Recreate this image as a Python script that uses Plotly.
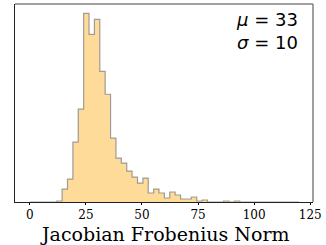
import plotly.graph_objects as go

# Histogram data: 50 bins of width 2.4 from 0 to 120
bin_start = 0.0
bin_width = 2.4
counts = [0, 0, 0, 0, 0, 1, 13, 23, 60, 93,
          189, 168, 183, 131, 108, 64, 44, 39, 31, 25,
          19, 24, 9, 13, 9, 4, 10, 7, 3, 3,
          5, 1, 2, 0, 0, 0, 1, 0, 1, 0,
          0, 0, 0, 0, 0, 0, 0, 0, 0, 0]
tick_vals = [0, 25, 50, 75, 100, 125]
tick_text = ["0", "25", "50", "75", "100", "125"]
stats_mu = 33
stats_sigma = 10
x_label = "Jacobian Frobenius Norm"

edges = [bin_start + bin_width * i for i in range(len(counts) + 1)]
xs = [edges[0]] + edges
ys = [0] + counts + [0]

fig = go.Figure()
fig.add_trace(go.Scatter(
    x=xs, y=ys, mode="lines", line_shape="hv",
    fill="tozeroy", fillcolor="#FFDB99",
    line=dict(color="rgba(128,128,128,0.75)", width=1.2),
    hoverinfo="skip", showlegend=False,
))

span = edges[-1] - edges[0]
ymax = max(counts) * 1.05

fig.update_layout(
    width=326, height=245,
    margin=dict(l=15, r=13, t=4, b=43),
    paper_bgcolor="white", plot_bgcolor="white",
    xaxis=dict(
        range=[edges[0] - 0.055 * span, edges[-1] + 0.052 * span],
        tickvals=tick_vals, ticktext=tick_text,
        ticks="outside", ticklen=2, tickwidth=1, tickcolor="black",
        showgrid=False, zeroline=False,
        showline=True, linecolor="#222222", linewidth=1,
        tickfont=dict(family="DejaVu Serif", size=12, color="black"),
    ),
    yaxis=dict(
        range=[0, ymax], showticklabels=False, ticks="",
        showgrid=False, zeroline=False,
        showline=True, linecolor="#222222", linewidth=1,
    ),
    shapes=[
        dict(type="line", xref="paper", yref="paper", x0=0, x1=1, y0=1, y1=1,
             line=dict(color="#808080", width=1.5)),
        dict(type="line", xref="paper", yref="paper", x0=1, x1=1, y0=0, y1=1,
             line=dict(color="#808080", width=1.5)),
    ],
    annotations=[
        dict(xref="paper", yref="paper", x=0.955, y=0.985,
             xanchor="right", yanchor="top", align="right", showarrow=False,
             text=f"<i>μ</i> = {stats_mu}<br><i>σ</i> = {stats_sigma}",
             font=dict(family="DejaVu Sans", size=18, color="black")),
        dict(xref="paper", yref="paper", x=0.5, y=-0.16,
             xanchor="center", yanchor="middle", showarrow=False,
             text=x_label, borderpad=0,
             font=dict(family="DejaVu Serif", size=19, color="black")),
    ],
)

fig.write_html("out.html", config={"displayModeBar": False},
               post_script="document.body.style.margin='0px';")
